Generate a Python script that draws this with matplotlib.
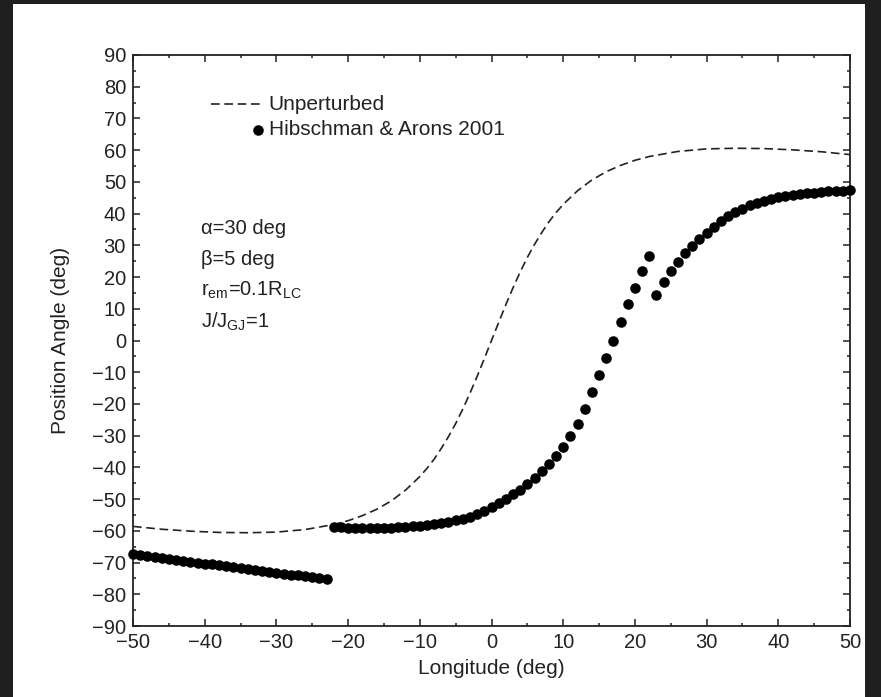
import matplotlib
matplotlib.use('Agg')
import matplotlib.pyplot as plt
from matplotlib.patches import Rectangle
from matplotlib.ticker import MultipleLocator

plt.rcParams['font.family'] = ['Liberation Sans', 'DejaVu Sans']
plt.rcParams['mathtext.fontset'] = 'custom'
plt.rcParams['mathtext.rm'] = 'Liberation Sans'
plt.rcParams['mathtext.it'] = 'Liberation Sans:italic'

# unperturbed PA curve
unp_lon = [-50, -46, -42, -38, -34, -30, -26, -22, -20, -18, -16, -14, -12,
           -10, -9, -8, -7, -6, -5, -4, -3, -2, -1, 0,
           1, 2, 3, 4, 5, 6, 7, 8, 9, 10,
           12, 14, 16, 18, 20, 22, 26, 30, 34, 38, 42, 46, 50]
unp_pa = [-58.6, -59.5, -60.1, -60.5, -60.6, -60.4, -59.6, -58.0, -56.8, -55.2, -53.2, -50.6, -47.2,
          -42.9, -40.3, -37.4, -34.0, -30.3, -26.2, -21.6, -16.6, -11.3, -5.7, 0.0,
          5.7, 11.3, 16.6, 21.6, 26.2, 30.3, 34.0, 37.4, 40.3, 42.9,
          47.2, 50.6, 53.2, 55.2, 56.8, 58.0, 59.6, 60.4, 60.6, 60.5, 60.1, 59.5, 58.6]

# Hibschman & Arons 2001 points, three branches
ha_lon_a = list(range(-50, -22))
ha_pa_a = [-67.2, -67.5, -67.9, -68.2, -68.5, -68.8, -69.1, -69.4, -69.7, -70.0,
           -70.3, -70.6, -70.9, -71.2, -71.5, -71.8, -72.1, -72.4, -72.7, -72.9,
           -73.2, -73.5, -73.8, -74.0, -74.3, -74.5, -74.8, -75.1]

ha_lon_b = list(range(-22, 23))
ha_pa_b = [-58.8, -58.9, -59.0, -59.1, -59.2, -59.2, -59.2, -59.1, -59.0, -58.9,
           -58.8, -58.6, -58.4, -58.2, -57.9, -57.6, -57.2, -56.7, -56.2, -55.5,
           -54.6, -53.6, -52.4, -51.2, -49.9, -48.5, -47.0, -45.3, -43.4, -41.2,
           -38.8, -36.3, -33.5, -30.2, -26.2, -21.5, -16.3, -10.9, -5.4, 0.0,
           5.8, 11.4, 16.6, 21.8, 26.6]

ha_lon_c = list(range(23, 51))
ha_pa_c = [14.3, 18.3, 21.8, 24.9, 27.6, 29.9, 32.0, 34.0, 35.9, 37.6,
           39.2, 40.5, 41.6, 42.6, 43.4, 44.1, 44.7, 45.2, 45.6, 45.9,
           46.2, 46.4, 46.6, 46.8, 47.0, 47.1, 47.2, 47.3]

ink = '#222222'

fig = plt.figure(figsize=(8.81, 6.97), dpi=100, facecolor='#1f1f1f')
fig.patches.append(Rectangle((13 / 881, 0), (865 - 13) / 881, 693 / 697,
                             transform=fig.transFigure, facecolor='white',
                             edgecolor='none', zorder=-10))
ax = fig.add_axes([133 / 881, 71 / 697, 717 / 881, 571 / 697])

ax.plot(unp_lon, unp_pa, color=ink, lw=1.2, dashes=(5.2, 2.8))
for lon, pa in [(ha_lon_a, ha_pa_a), (ha_lon_b, ha_pa_b), (ha_lon_c, ha_pa_c)]:
    ax.plot(lon, pa, 'o', color='black', ms=7.6, mec='none', clip_on=False, zorder=3)

ax.set_xlim(-50, 50)
ax.set_ylim(-90, 90)
ax.xaxis.set_major_locator(MultipleLocator(10))
ax.xaxis.set_minor_locator(MultipleLocator(5))
ax.yaxis.set_major_locator(MultipleLocator(10))
ax.yaxis.set_minor_locator(MultipleLocator(5))
ax.tick_params(which='both', direction='in', top=True, right=True, width=1.1,
               labelsize=14.5, colors=ink, pad=5)
ax.tick_params(which='major', length=5)
ax.tick_params(which='minor', length=2.5)
for s in ax.spines.values():
    s.set_linewidth(1.3)
    s.set_color(ink)

ax.set_xlabel('Longitude (deg)', fontsize=15, color=ink, labelpad=5)
ax.set_ylabel('Position Angle (deg)', fontsize=15, color=ink, labelpad=16)

# key, gnuplot style
ax.plot([0.109, 0.180], [0.914, 0.914], transform=ax.transAxes, color=ink,
        lw=1.2, dashes=(5.2, 2.8))
ax.plot([0.174], [0.869], 'o', transform=ax.transAxes, color='black', ms=7.6, mec='none')
ax.text(0.189, 0.914, 'Unperturbed', transform=ax.transAxes, fontsize=15,
        va='center', color=ink)
ax.text(0.189, 0.869, 'Hibschman & Arons 2001', transform=ax.transAxes, fontsize=15,
        va='center', color=ink)

notes = ['α=30 deg', 'β=5 deg', r'r$_{\rm em}$=0.1R$_{\rm LC}$', r'J/J$_{\rm GJ}$=1']
for i, t in enumerate(notes):
    ax.text(0.095, 0.697 - i * 0.055, t, transform=ax.transAxes, fontsize=14.5,
            va='center', color=ink)

fig.savefig('out.png', dpi=100, facecolor=fig.get_facecolor())
